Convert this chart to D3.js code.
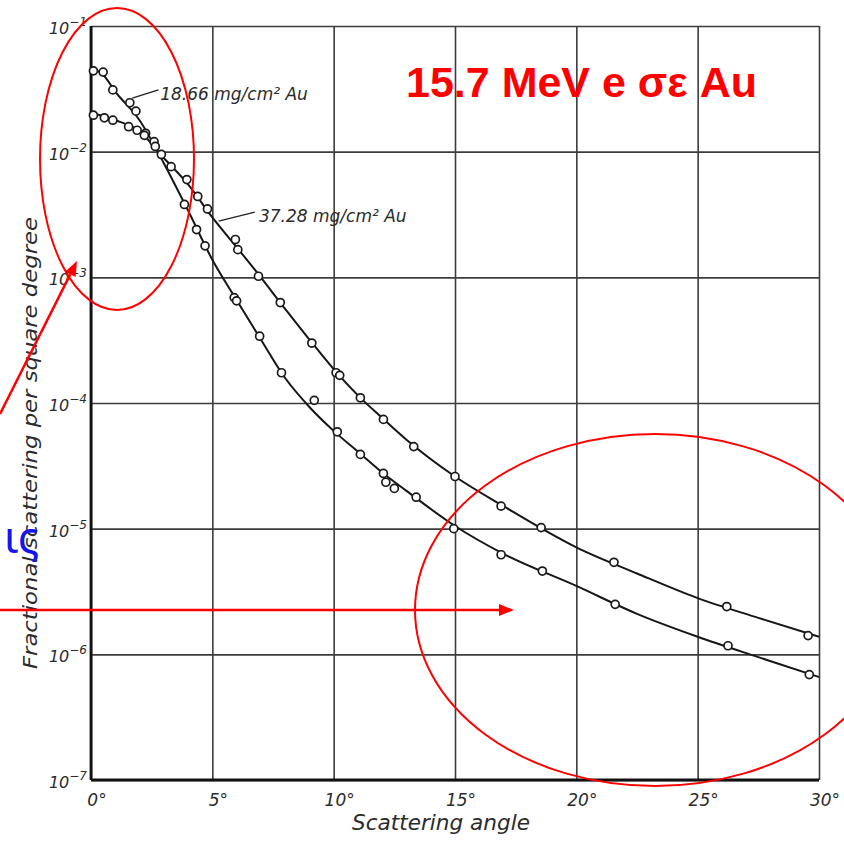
<!DOCTYPE html>
<html>
<head>
<meta charset="utf-8">
<script src="https://cdn.jsdelivr.net/npm/d3@7"></script>
<style>
  body { margin: 0; background: #fff; }
  svg { display: block; }
  .hand { font-family: "DejaVu Sans", sans-serif; font-style: italic; fill: #2b2b2b; }
  .grid line { stroke: #3c3c3c; stroke-width: 1.6; }
  .grid path { display: none; }
</style>
</head>
<body>
<div id="chart"></div>
<script>
// axis ticks
var angleTicks = [0, 5, 10, 15, 20, 25, 30];
var decadeTicks = [1e-1, 1e-2, 1e-3, 1e-4, 1e-5, 1e-6, 1e-7];
var seriesNames = ["18.66 mg/cm\u00b2 Au", "37.28 mg/cm\u00b2 Au"];

// measured points [angle (deg), fraction per square degree], 18.66 mg/cm2
var thinPoints = [
  [0.1, 4.4e-2], [0.5, 4.3e-2], [0.9, 3.1e-2], [1.6, 2.45e-2], [1.85, 2.1e-2],
  [2.25, 1.4e-2], [2.6, 1.2e-2], [2.9, 9.5e-3], [3.85, 3.8e-3], [4.35, 2.4e-3],
  [4.7, 1.78e-3], [5.9, 6.9e-4], [6.0, 6.5e-4], [6.95, 3.4e-4], [7.85, 1.74e-4],
  [9.2, 1.05e-4], [10.15, 5.9e-5], [11.1, 3.9e-5], [12.05, 2.75e-5], [12.15, 2.34e-5],
  [12.5, 2.09e-5], [13.4, 1.78e-5], [14.95, 1.0e-5], [16.9, 6.2e-6], [18.6, 4.6e-6],
  [21.6, 2.5e-6], [26.25, 1.17e-6], [29.6, 6.9e-7]
];

// measured points, 37.28 mg/cm2
var thickPoints = [
  [0.1, 1.95e-2], [0.55, 1.86e-2], [0.9, 1.78e-2], [1.55, 1.58e-2], [1.9, 1.48e-2],
  [2.2, 1.35e-2], [2.65, 1.1e-2], [3.3, 7.6e-3], [3.95, 6.0e-3], [4.4, 4.4e-3],
  [4.8, 3.5e-3], [5.95, 2.0e-3], [6.05, 1.66e-3], [6.9, 1.02e-3], [7.8, 6.3e-4],
  [9.1, 3.0e-4], [10.1, 1.74e-4], [10.25, 1.66e-4], [11.1, 1.1e-4], [12.05, 7.4e-5],
  [13.3, 4.5e-5], [15.0, 2.6e-5], [16.9, 1.51e-5], [18.55, 1.02e-5], [21.55, 5.4e-6],
  [26.2, 2.4e-6], [29.55, 1.41e-6]
];

// drawn smooth curves
var thinCurve = [
  [0, 4.6e-2], [0.5, 4.1e-2], [1, 3.0e-2], [2, 1.78e-2], [3, 8.1e-3], [4, 3.4e-3],
  [5, 1.38e-3], [6, 6.6e-4], [7, 3.2e-4], [8, 1.58e-4], [9, 9.3e-5], [10, 6.0e-5],
  [11, 4.1e-5], [12, 2.8e-5], [13, 2.0e-5], [15, 1.05e-5], [17, 6.3e-6], [20, 3.5e-6],
  [22.5, 2.1e-6], [25, 1.38e-6], [27.5, 9.5e-7], [30, 6.6e-7]
];
var thickCurve = [
  [0, 2.04e-2], [1, 1.78e-2], [2, 1.45e-2], [3, 8.9e-3], [4, 5.5e-3], [5, 3.0e-3],
  [6, 1.74e-3], [7, 1.0e-3], [8, 5.6e-4], [9, 3.2e-4], [10, 1.86e-4], [11, 1.15e-4],
  [12, 7.6e-5], [13, 5.1e-5], [15, 2.6e-5], [17, 1.51e-5], [20, 7.1e-6], [22.5, 4.4e-6],
  [25, 2.8e-6], [27.5, 1.95e-6], [30, 1.38e-6]
];

var margin = {top: 26, right: 25, bottom: 61, left: 91},
    width = 844 - margin.left - margin.right,
    height = 841 - margin.top - margin.bottom;

var svg = d3.select("#chart").append("svg")
            .attr("width", 844)
            .attr("height", 841);
var g = svg.append("g").attr("transform", "translate(" + margin.left + "," + margin.top + ")");

var xScale = d3.scaleLinear().domain([0, 30]).range([0, width]);
var yScale = d3.scaleLog().domain([1e-7, 1e-1]).range([height, 0]);

// grid
g.append("g")
  .attr("class", "grid")
  .attr("transform", "translate(0," + height + ")")
  .call(d3.axisBottom(xScale).tickValues(angleTicks).tickSize(-height).tickFormat(""));

g.append("g")
  .attr("class", "grid")
  .call(d3.axisLeft(yScale).tickValues(decadeTicks).tickSize(-width).tickFormat(""));

// heavier left and bottom edge
g.append("line").attr("x1", 0).attr("x2", 0).attr("y1", 0).attr("y2", height)
  .attr("stroke", "#111").attr("stroke-width", 2.8);
g.append("line").attr("x1", 0).attr("x2", width).attr("y1", height).attr("y2", height)
  .attr("stroke", "#111").attr("stroke-width", 2.8);

// curves
var curveLine = d3.line()
      .x(function(d) { return xScale(d[0]); })
      .y(function(d) { return yScale(d[1]); })
      .curve(d3.curveMonotoneX);

g.selectAll(".curve")
  .data([thinCurve, thickCurve])
  .enter().append("path")
  .attr("class", "curve")
  .attr("d", curveLine)
  .attr("fill", "none")
  .attr("stroke", "#161616")
  .attr("stroke-width", 2);

// markers
[thinPoints, thickPoints].forEach(function(pts) {
  g.append("g").selectAll("circle")
    .data(pts).enter()
    .append("circle")
    .attr("cx", function(d) { return xScale(d[0]); })
    .attr("cy", function(d) { return yScale(d[1]); })
    .attr("r", 4)
    .attr("fill", "#fff")
    .attr("stroke", "#1a1a1a")
    .attr("stroke-width", 1.7);
});

// tick labels
g.selectAll(".xlab")
  .data(angleTicks).enter()
  .append("text")
  .attr("class", "hand xlab")
  .attr("x", function(d) { return xScale(d) + 6; })
  .attr("y", height + 26)
  .attr("text-anchor", "middle")
  .style("font-size", "17px")
  .text(function(d) { return d + "\u00b0"; });

var ylab = g.selectAll(".ylab")
  .data(decadeTicks).enter()
  .append("text")
  .attr("class", "hand ylab")
  .attr("x", -4)
  .attr("y", function(d) { return yScale(d) + 8; })
  .attr("text-anchor", "end")
  .style("font-size", "16px");
ylab.append("tspan").text("10");
ylab.append("tspan")
  .attr("dy", -8)
  .style("font-size", "12px")
  .text(function(d) { return "\u2212" + Math.round(-Math.log10(d)); });

// axis titles
g.append("text")
  .attr("class", "hand")
  .attr("x", 350)
  .attr("y", height + 50)
  .attr("text-anchor", "middle")
  .attr("textLength", 178)
  .attr("lengthAdjust", "spacingAndGlyphs")
  .style("font-size", "21px")
  .text("Scattering angle");

g.append("text")
  .attr("class", "hand")
  .attr("transform", "translate(-54," + (443 - margin.top) + ") rotate(-90)")
  .attr("text-anchor", "middle")
  .attr("textLength", 452)
  .attr("lengthAdjust", "spacingAndGlyphs")
  .style("font-size", "20px")
  .text("Fractional scattering per square degree");

// series labels with leader lines
var labelSpots = [
  {from: [1.7, 2.67e-2], to: [2.78, 3.1e-2], at: [2.85, 2.57e-2]},
  {from: [5.26, 2.8e-3], to: [6.75, 3.3e-3], at: [6.92, 2.75e-3]}
];
labelSpots.forEach(function(s, i) {
  g.append("line")
    .attr("x1", xScale(s.from[0])).attr("y1", yScale(s.from[1]))
    .attr("x2", xScale(s.to[0])).attr("y2", yScale(s.to[1]))
    .attr("stroke", "#222").attr("stroke-width", 1.4);
  g.append("text")
    .attr("class", "hand")
    .attr("x", xScale(s.at[0]))
    .attr("y", yScale(s.at[1]))
    .style("font-size", "17px")
    .text(seriesNames[i]);
});

// red / blue marks laid over the scanned figure
var overlay = svg.append("g");

overlay.append("text")
  .attr("x", 406).attr("y", 97)
  .style("font-family", "'Liberation Sans', Arial, sans-serif")
  .style("font-weight", "bold")
  .style("font-size", "43px")
  .attr("fill", "#ff0000")
  .text("15.7 MeV e \u03c3\u03b5 Au");

overlay.selectAll("ellipse")
  .data([{cx: 117, cy: 159, rx: 77, ry: 151}, {cx: 655, cy: 610, rx: 240, ry: 176}])
  .enter().append("ellipse")
  .attr("cx", function(d) { return d.cx; })
  .attr("cy", function(d) { return d.cy; })
  .attr("rx", function(d) { return d.rx; })
  .attr("ry", function(d) { return d.ry; })
  .attr("fill", "none")
  .attr("stroke", "#ff0000")
  .attr("stroke-width", 2);

function arrow(x1, y1, x2, y2) {
  var dx = x2 - x1, dy = y2 - y1, len = Math.sqrt(dx * dx + dy * dy);
  var ux = dx / len, uy = dy / len, hl = 15, hw = 6;
  var bx = x2 - ux * hl, by = y2 - uy * hl;
  overlay.append("line")
    .attr("x1", x1).attr("y1", y1).attr("x2", bx).attr("y2", by)
    .attr("stroke", "#ff0000").attr("stroke-width", 2.5);
  overlay.append("path")
    .attr("d", "M" + x2 + "," + y2 +
               "L" + (bx - uy * hw) + "," + (by + ux * hw) +
               "L" + (bx + uy * hw) + "," + (by - ux * hw) + "Z")
    .attr("fill", "#ff0000");
}
arrow(0, 414, 77, 261);
arrow(0, 610, 514, 610);

overlay.append("text")
  .attr("x", 4).attr("y", 553)
  .style("font-family", "'Noto Sans', sans-serif")
  .style("font-size", "44px")
  .attr("fill", "#1515ee")
  .text("\u03b9\u03c2");
</script>
</body>
</html>
